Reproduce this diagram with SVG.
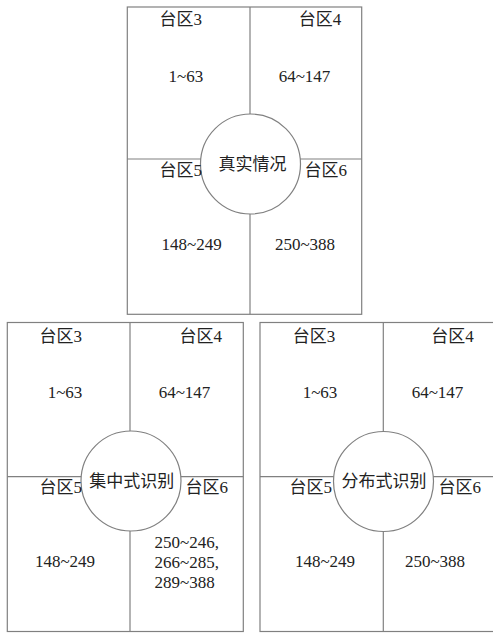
<svg xmlns="http://www.w3.org/2000/svg" width="493" height="633" viewBox="0 0 493 633">
<style>
.box{fill:#fff;stroke:#808080;stroke-width:1.2}
.ln{stroke:#808080;stroke-width:1.2;fill:none}
.c{fill:#fff;stroke:#808080;stroke-width:1.2}
text{font-family:"Liberation Serif","Noto Sans CJK SC",serif;font-size:17px;fill:#222;text-anchor:middle}
.l{text-anchor:start}
</style>
<rect width="493" height="633" fill="#fff"/>
<g id="panel-real">
<rect class="box" x="127.3" y="7" width="234.4" height="307.3"/>
<line class="ln" x1="250" y1="7" x2="250" y2="314.3"/>
<line class="ln" x1="127.3" y1="159" x2="361.7" y2="159"/>
<circle class="c" cx="250.5" cy="164" r="50"/>
<text x="180.8" y="24.5">台区3</text>
<text x="320" y="24.5">台区4</text>
<text x="185.8" y="81.7">1~63</text>
<text x="304.5" y="81.7">64~147</text>
<text x="180.8" y="175.7">台区5</text>
<text x="325.8" y="175.7">台区6</text>
<text x="252.5" y="170">真实情况</text>
<text x="191.7" y="250">148~249</text>
<text x="305" y="250">250~388</text>
</g>
<g id="panel-central">
<rect class="box" x="7.3" y="322.5" width="236" height="309"/>
<line class="ln" x1="130" y1="322.5" x2="130" y2="631.5"/>
<line class="ln" x1="7.3" y1="476.7" x2="243.3" y2="476.7"/>
<circle class="c" cx="131" cy="481" r="50"/>
<text x="60.8" y="341.7">台区3</text>
<text x="200.8" y="341.7">台区4</text>
<text x="65" y="398">1~63</text>
<text x="184.5" y="398">64~147</text>
<text x="60.8" y="492.7">台区5</text>
<text x="206.8" y="492.7">台区6</text>
<text x="131.7" y="487">集中式识别</text>
<text x="65" y="566.7">148~249</text>
<text class="l" x="154.5" y="548.3">250~246,</text>
<text class="l" x="154.5" y="568.3">266~285,</text>
<text class="l" x="154.5" y="588">289~388</text>
</g>
<g id="panel-distributed">
<rect class="box" x="260" y="322.5" width="240" height="309"/>
<line class="ln" x1="383.3" y1="322.5" x2="383.3" y2="631.5"/>
<line class="ln" x1="260" y1="476.7" x2="493" y2="476.7"/>
<circle class="c" cx="383.5" cy="481.5" r="50"/>
<text x="314" y="341.7">台区3</text>
<text x="452.5" y="341.7">台区4</text>
<text x="320" y="398">1~63</text>
<text x="437.5" y="398">64~147</text>
<text x="310.8" y="492.7">台区5</text>
<text x="459.7" y="492.7">台区6</text>
<text x="384" y="487">分布式识别</text>
<text x="325" y="566.7">148~249</text>
<text x="435" y="566.7">250~388</text>
</g>
</svg>
